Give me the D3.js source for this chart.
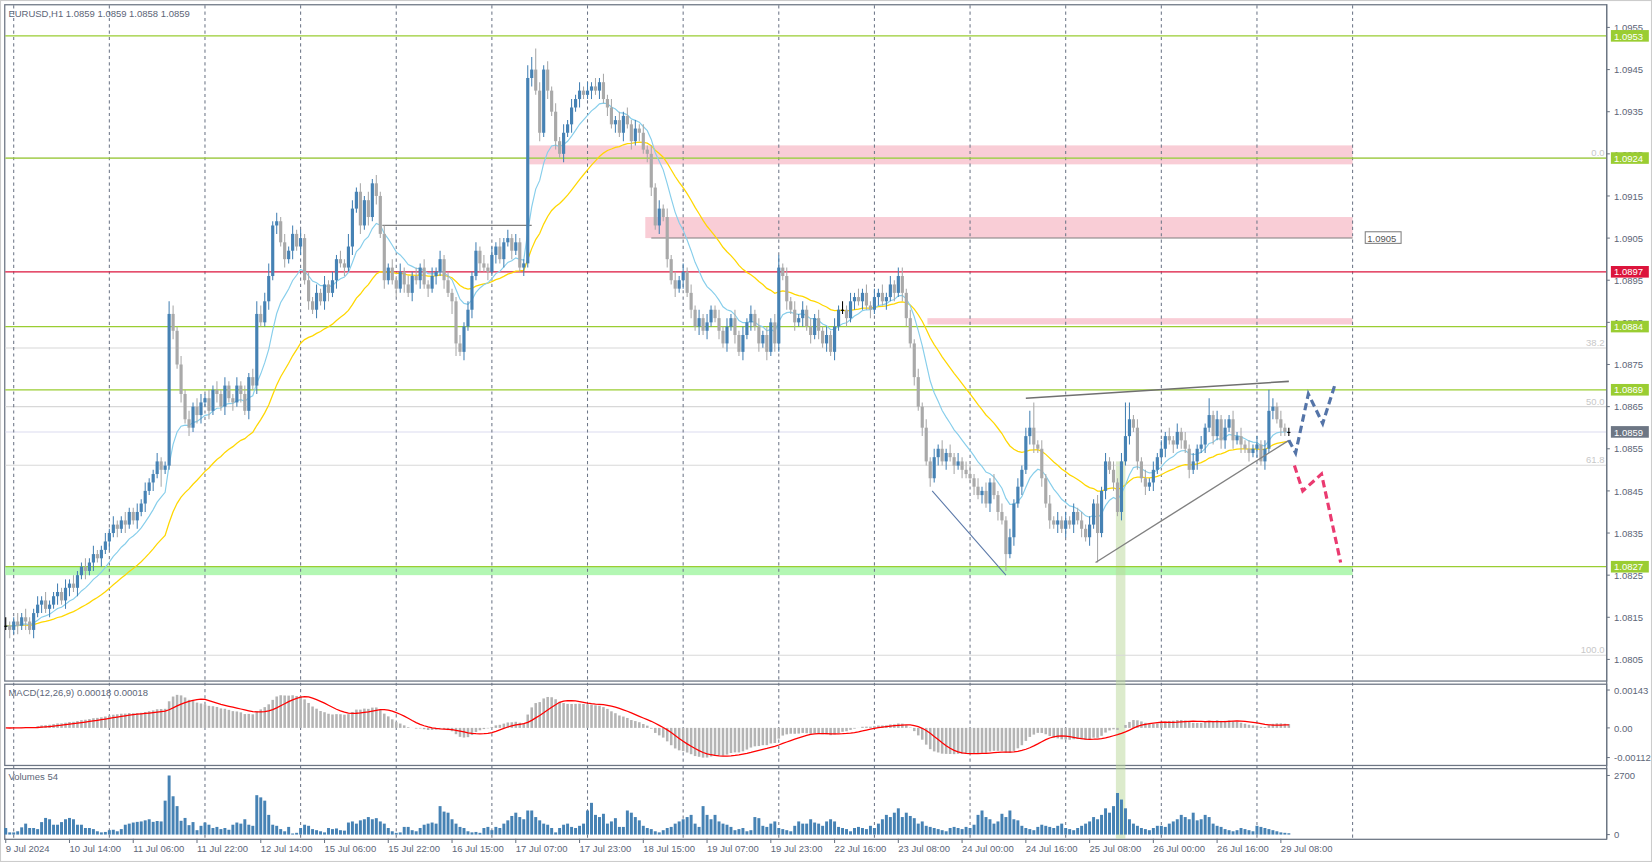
<!DOCTYPE html>
<html><head><meta charset="utf-8">
<script src="https://cdn.jsdelivr.net/npm/d3@7"></script>
<style>
body{margin:0;background:#fff;}
text{font-family:"Liberation Sans","Noto Sans",sans-serif;}
</style></head>
<body><svg id="chart"></svg>
<script>
// closes in pips above 1.0800, hourly bars
const closes = [
  13,12,14,13,15,14,12,16,18,19,17,18,20,21,19,22,
  23,22,25,27,26,28,30,29,31,33,35,37,36,38,37,40,
  38,40,42,45,47,49,52,50,51,87,83,75,68,62,60,65,63,
  66,67,64,69,68,65,70,67,66,70,68,64,72,70,87,85,
  90,96,108,109,104,100,102,106,103,105,95,90,88,92,90,94,
  92,95,100,99,98,103,112,116,108,114,110,118,115,106,95,98,
  95,93,97,94,92,96,95,98,94,93,96,97,100,95,92,90,
  80,78,84,88,96,102,99,98,97,101,103,100,104,105,102,104,
  98,99,143,145,140,130,145,140,135,128,125,130,132,136,138,140,139,
  140,141,140,142,138,136,132,133,130,134,132,128,131,130,126,125,
  117,108,112,110,100,95,93,95,97,92,88,84,86,83,85,88,
  86,83,80,84,86,82,78,82,85,87,84,80,82,78,85,80,
  98,96,90,88,85,86,88,84,82,86,83,80,82,78,84,88,
  88,86,90,91,90,92,89,88,91,92,90,91,94,92,96,92,
  86,80,72,65,60,52,48,53,55,52,54,53,51,52,50,49,
  48,46,44,45,42,47,44,40,38,30,34,42,46,50,58,60,
  56,55,48,42,38,37,38,36,38,37,40,38,36,34,37,42,
  35,45,52,50,47,40,52,58,62,60,52,48,46,47,50,53,
  55,58,57,56,59,57,55,50,52,55,56,60,63,58,62,57,
  60,62,57,58,56,55,54,55,56,52,55,64,65,62,60,59,
  59
];
const upWick = "2112121121211212"+"1211212112121121"+"12121121132121212"+"2121212112121232"+
  "2312121212121212"+"1212132121212121"+"2121212121212121"+"1212121212121212"+
  "11335212121212121"+"2121212121212121"+"2121212121212121"+"1212121212121212"+
  "3121212121212121"+"2121212121212122"+"1212121212121212"+"2121212121212124"+
  "6121212121212121"+"2121212841212121"+"2121212121214121"+"2121212121252121"+"1";
const lowWick = "1212121212121212"+"2121212121212121"+"12121214112121212"+"2121212121212121"+
  "1212121212121212"+"2121212121212121"+"1212121212121213"+"3121212121212121"+
  "12121212121212121"+"1212121212121212"+"2121212121212121"+"1212121212121212"+
  "2121212121212121"+"1212121212121212"+"2121212121212121"+"1212121214121212"+
  "2121212121212121"+"7121212121212121"+"1212121212121212"+"2121212121212121"+"1";
const volumes = [
  300,100,
  100,150,330,500,300,300,250,570,760,700,450,450,570,700,760,700,450,450,300,300,250,150,100,120,
  200,220,150,250,450,500,550,580,600,650,700,580,620,600,1550,2700,1750,1300,630,760,430,570,200,400,
  550,450,300,350,250,300,220,450,550,500,700,450,400,1800,1700,1550,900,450,400,250,150,350,50,80,
  300,450,400,250,200,150,100,300,250,280,200,180,550,600,500,650,700,800,700,750,600,500,300,150,
  80,100,350,350,200,150,300,450,500,550,500,1300,1050,1000,700,500,350,300,150,100,120,80,300,350,
  200,350,300,500,650,850,1000,800,700,1100,1100,800,650,500,450,300,100,300,450,500,350,300,400,500,
  1100,1450,900,800,950,500,600,750,350,350,1100,1000,800,650,400,300,250,150,100,200,300,350,500,600,
  700,800,900,500,350,1300,900,700,900,600,500,450,350,200,250,300,150,200,800,750,400,350,500,600,
  300,250,200,150,400,600,500,500,700,550,500,400,600,700,600,350,300,250,150,300,350,300,250,400,
  300,500,700,900,800,1000,1200,800,1000,850,750,500,600,400,350,300,250,200,150,300,350,300,250,350,
  300,450,900,1100,800,700,500,600,950,800,1100,700,650,400,300,250,200,350,450,400,350,300,400,500,
  300,250,200,300,400,500,600,800,700,900,1200,1000,1300,1900,1600,1200,700,500,400,300,250,200,300,400,
  400,350,500,600,700,900,800,700,1000,650,700,900,800,500,400,350,250,200,150,200,300,250,200,150,
  400,350,300,250,200,150,100,80,60
];
const dateLabels = ["9 Jul 2024","10 Jul 14:00","11 Jul 06:00","11 Jul 22:00","12 Jul 14:00","15 Jul 06:00",
  "15 Jul 22:00","16 Jul 15:00","17 Jul 07:00","17 Jul 23:00","18 Jul 15:00","19 Jul 07:00","19 Jul 23:00",
  "22 Jul 16:00","23 Jul 08:00","24 Jul 00:00","24 Jul 16:00","25 Jul 08:00","26 Jul 00:00","26 Jul 16:00","29 Jul 08:00"];
const priceTicks = [1.0805,1.0815,1.0825,1.0835,1.0845,1.0855,1.0865,1.0875,1.0885,1.0895,1.0905,1.0915,1.0925,1.0935,1.0945,1.0955];
const greenLevels = [1.0953,1.0924,1.0884,1.0869,1.0827];
const redLevel = 1.0897, lastPrice = 1.0859;
const fibLevels = [[1.0924,"0.0"],[1.08789,"38.2"],[1.0865,"50.0"],[1.08511,"61.8"],[1.0806,"100.0"]];
const pinkZones = [[131.4,1.0927,1.09225],[160.5,1.0910,1.0905],[231.3,1.0886,1.08845]]; // [startBar, top, bottom]
const supportZone = [1.0827,1.0825];

const W = 1567, H = 817, AX = 1524;
const svg = d3.select("#chart").attr("width",1652).attr("height",862)
  .attr("viewBox",`0 0 ${W} ${H}`).attr("preserveAspectRatio","none");

const bars = closes.map((c,i) => {
  const o = i ? closes[i-1] : c;
  return {i, o:1.08+o/1e4, c:1.08+c/1e4,
    h:1.08+(Math.max(o,c)+ +upWick[i])/1e4, l:1.08+(Math.min(o,c)- +lowWick[i])/1e4, v:volumes[i]};
});
const x = d3.scaleLinear().domain([2,338]).range([13,1283]);
const y = d3.scaleLinear().domain([1.0805,1.0955]).range([625,26]);
const ym = d3.scaleLinear().domain([-0.00112,0.00143]).range([718,654]);
const yv = d3.scaleLinear().domain([0,2700]).range([791,735]);
const xEnd = x(338);

// indicators from closes
function ema(arr,n){const a=2/(n+1);let e=arr[0];return arr.map(v=>e=e+a*(v-e));}
const cl = bars.map(b=>b.c);
const emaFast = ema(cl,12), emaSlow = ema(cl,26);
const macd = cl.map((_,i)=>emaFast[i]-emaSlow[i]);
const signal = macd.map((_,i)=>d3.mean(macd.slice(Math.max(0,i-8),i+1)));
const maBlue = ema(cl,12), maYellow = ema(cl,34);

// panels
svg.append("rect").attr("x",0.5).attr("y",0.5).attr("width",W-1).attr("height",H-1).attr("fill","none").attr("stroke","#ccc");
[[4,645],[648,725],[728,795]].forEach(([t,b])=>{
  svg.append("rect").attr("x",4.5).attr("y",t+.5).attr("width",AX-4.5).attr("height",b-t)
    .attr("fill","none").attr("stroke","#6d7684").attr("stroke-width",1.2);
});

// zones
const zones = svg.append("g");
pinkZones.forEach(([s,t,b])=>zones.append("rect").attr("x",x(s)).attr("y",y(t)).attr("width",xEnd-x(s)).attr("height",y(b)-y(t)).attr("fill","#f9cdd6"));
zones.append("rect").attr("x",5).attr("y",y(supportZone[0])).attr("width",xEnd-5).attr("height",y(supportZone[1])-y(supportZone[0])).attr("fill","#b3f7b3");
zones.append("rect").attr("x",x(278.6)).attr("y",y(1.0852)).attr("width",9).attr("height",795-y(1.0852)).attr("fill","#b9d89a").attr("opacity",0.5);

// fib + grid
fibLevels.forEach(([p,t])=>{
  svg.append("line").attr("x1",5).attr("x2",AX).attr("y1",y(p)).attr("y2",y(p)).attr("stroke","#d8d8d8");
  svg.append("text").attr("x",AX-2).attr("y",y(p)-2).attr("text-anchor","end").attr("font-size",9).attr("fill","#c8c8c8").text(t);
});
svg.append("line").attr("x1",5).attr("x2",AX).attr("y1",y(lastPrice)).attr("y2",y(lastPrice)).attr("stroke","#dcdcf0");
d3.range(2,339,24).forEach(i=>{
  svg.append("line").attr("x1",x(i)).attr("x2",x(i)).attr("y1",5).attr("y2",795)
    .attr("stroke","#6e7788").attr("stroke-dasharray","3,3");
});
greenLevels.forEach(p=>svg.append("line").attr("x1",5).attr("x2",AX).attr("y1",y(p)).attr("y2",y(p)).attr("stroke","#9acd32").attr("stroke-width",1.2));
svg.append("line").attr("x1",5).attr("x2",AX).attr("y1",y(redLevel)).attr("y2",y(redLevel)).attr("stroke","#dc143c").attr("stroke-width",1.2);
svg.append("line").attr("x1",x(162)).attr("x2",xEnd).attr("y1",y(1.0905)).attr("y2",y(1.0905)).attr("stroke","#808080");
svg.append("rect").attr("x",1295).attr("y",y(1.0905)-6).attr("width",34).attr("height",11).attr("fill","#fff").attr("stroke","#808080");
svg.append("text").attr("x",1297).attr("y",y(1.0905)+3.5).attr("font-size",9).attr("fill","#555").text("1.0905");
svg.append("line").attr("x1",x(94.5)).attr("x2",x(132)).attr("y1",y(1.0908)).attr("y2",y(1.0908)).attr("stroke","#808080").attr("stroke-width",1.2);

// moving averages
const line = d3.line().x((d,i)=>x(i)).y(d=>y(d));
svg.append("path").attr("d",line(maYellow)).attr("fill","none").attr("stroke","#ffd700").attr("stroke-width",1.2);
svg.append("path").attr("d",line(maBlue)).attr("fill","none").attr("stroke","#87ceeb").attr("stroke-width",1.1);

// candles
const cg = svg.append("g");
bars.forEach(b=>{
  const col = b.c>b.o ? "#4682b4" : b.c<b.o ? "#a9a9a9" : "#000";
  cg.append("line").attr("x1",x(b.i)).attr("x2",x(b.i)).attr("y1",y(b.h)).attr("y2",y(b.l)).attr("stroke",col);
  const t=y(Math.max(b.o,b.c)), bt=y(Math.min(b.o,b.c));
  cg.append("rect").attr("x",x(b.i)-1.5).attr("y",t).attr("width",3).attr("height",Math.max(1,bt-t)).attr("fill",col);
});

// trend lines and pattern
const tl = (x1,p1,x2,p2,col,w)=>svg.append("line").attr("x1",x(x1)).attr("y1",y(p1)).attr("x2",x(x2)).attr("y2",y(p2))
  .attr("stroke",col).attr("stroke-width",w);
tl(256,1.0867,322,1.0871,"#707070",1.5);
tl(273.5,1.0828,322,1.0857,"#808080",1.3);
tl(232.5,1.0845,251,1.0825,"#5a78a8",1);
const dline = d3.line().x(d=>x(d[0])).y(d=>y(d[1]));
svg.append("path").attr("d",dline([[322,1.0857],[323.7,1.0854],[326.9,1.0868],[330.5,1.0861],[333.5,1.0870]]))
  .attr("fill","none").attr("stroke","#5474a8").attr("stroke-width",3).attr("stroke-dasharray","7,4");
svg.append("path").attr("d",dline([[323.4,1.0851],[325.5,1.0845],[330.2,1.0849],[335,1.0828]]))
  .attr("fill","none").attr("stroke","#ea3a70").attr("stroke-width",3).attr("stroke-dasharray","7,4");

// macd
svg.append("g").selectAll("rect").data(macd).join("rect")
  .attr("x",(d,i)=>x(i)-1.2).attr("width",2.4)
  .attr("y",d=>Math.min(ym(d),ym(0))).attr("height",d=>Math.abs(ym(d)-ym(0))).attr("fill","#b4b4b4");
svg.append("path").attr("d",d3.line().x((d,i)=>x(i)).y(d=>ym(d))(signal)).attr("fill","none").attr("stroke","#ff0000").attr("stroke-width",1.2);

// volumes
svg.append("g").selectAll("rect").data(bars).join("rect")
  .attr("x",d=>x(d.i)-1.4).attr("width",2.8).attr("y",d=>yv(d.v)).attr("height",d=>yv(0)-yv(d.v)).attr("fill","#4682b4");

// right axis
svg.append("line").attr("x1",AX).attr("x2",AX).attr("y1",4).attr("y2",795).attr("stroke","#6d7684").attr("stroke-width",1.2);
const axT = (yy,t)=>{
  svg.append("line").attr("x1",AX).attr("x2",AX+3).attr("y1",yy).attr("y2",yy).attr("stroke","#6d7684");
  svg.append("text").attr("x",AX+7).attr("y",yy+3.5).attr("font-size",9).attr("fill","#5c6577").text(t);
};
priceTicks.forEach(p=>axT(y(p),p.toFixed(4)));
axT(ym(0.00143),"0.00143"); axT(ym(0),"0.00"); axT(ym(-0.00112),"-0.00112");
axT(yv(2700),"2700"); axT(yv(0),"0");
const tag = (p,col)=>{
  svg.append("rect").attr("x",AX+4).attr("y",y(p)-5.5).attr("width",36).attr("height",11).attr("fill",col);
  svg.append("text").attr("x",AX+7).attr("y",y(p)+3.5).attr("font-size",9).attr("fill","#fff").text(p.toFixed(4));
};
greenLevels.forEach(p=>tag(p,"#9acd32"));
tag(redLevel,"#dc143c"); tag(lastPrice,"#6d7684");

// dates
dateLabels.forEach((t,k)=>{
  const i=k*16;
  svg.append("line").attr("x1",x(i)).attr("x2",x(i)).attr("y1",795).attr("y2",799).attr("stroke","#6d7684");
  svg.append("text").attr("x",Math.max(4,x(i))).attr("y",808).attr("font-size",9).attr("fill","#5c6577").text(t);
});

// titles
svg.append("text").attr("x",8).attr("y",16).attr("font-size",9).attr("fill","#5c6577").text("EURUSD,H1  1.0859 1.0859 1.0858 1.0859");
svg.append("text").attr("x",8).attr("y",660).attr("font-size",9).attr("fill","#5c6577").text("MACD(12,26,9) 0.00018 0.00018");
svg.append("text").attr("x",8).attr("y",739).attr("font-size",9).attr("fill","#5c6577").text("Volumes 54");
</script></body></html>
